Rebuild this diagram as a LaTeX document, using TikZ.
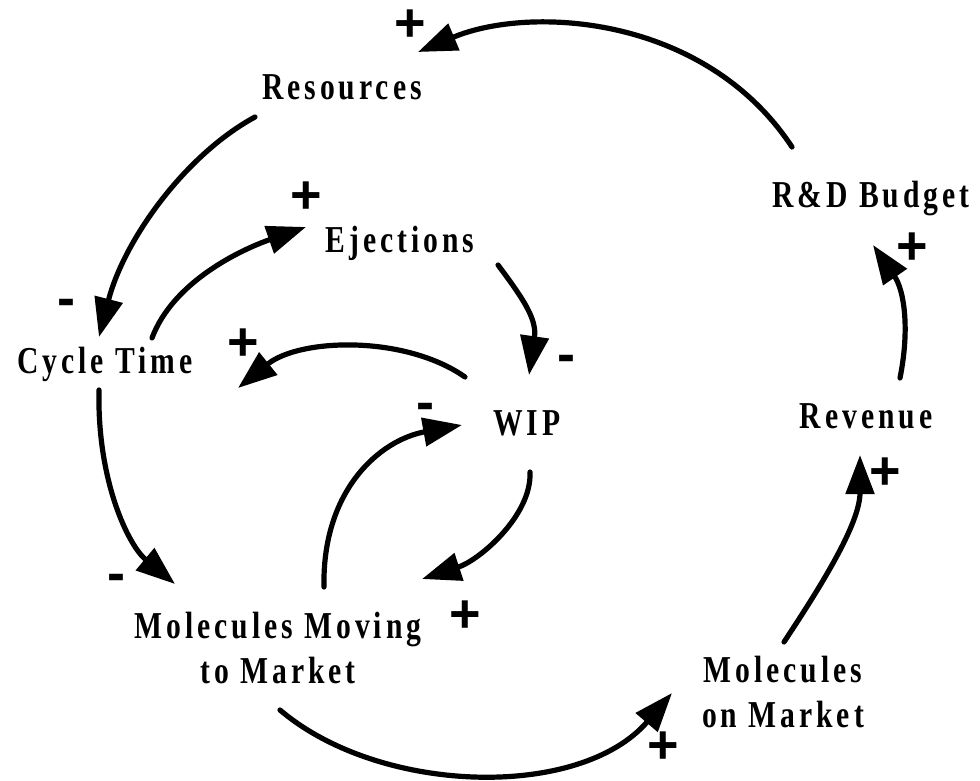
\documentclass[tikz,border=0pt]{standalone}
\usepackage{fontspec}
\setmainfont{Liberation Serif}[FakeStretch=0.78,LetterSpace=10.4]
\newfontfamily\signfont{Liberation Sans}
\usetikzlibrary{arrows.meta,calc}
\tikzset{
  var/.style={font=\fontsize{38}{45}\selectfont\bfseries, inner sep=0pt},
  sign/.style={font=\signfont\fontsize{54}{54}\selectfont\bfseries, inner sep=0pt},
  link/.style={line width=5.2pt, line cap=round, -{Triangle[length=39pt,width=28pt]}},
}
\begin{document}
\begin{tikzpicture}[x=1pt,y=-1pt]
\useasboundingbox (0,0) rectangle (980,781);

% variables of the causal loop diagram
\node[var, anchor=base] (res) at (342,100) {Resources};
\node[var, anchor=base] (rd)  at (871,207) {R\&D Budget};
\node[var, anchor=base] (ej)  at (400,252) {Ejections};
\node[var, anchor=base] (ct)  at (105,373) {Cycle Time};
\node[var, anchor=base] (wip) at (527,435) {WIP};
\node[var, anchor=base] (rev) at (866,428) {Revenue};
\node[var, anchor=north, align=center] (mmm) at (278,612) {Molecules Moving\\to Market};
\node[var, anchor=north, align=center] (mom) at (783,656) {Molecules\\on Market};

% causal links
\draw[link] ($(rd.base)+(-79,-60)$) .. controls (705,15) and (530,5) .. ($(res.base)+(76,-48)$);
\draw[link] ($(res.base)+(-87,17)$) .. controls (185,155) and (124,240) .. ($(ct.base)+(-6,-36)$);
\draw[link] ($(ct.base)+(47,-35)$) .. controls (173,282) and (240,250) .. ($(ej.base)+(-94,-25)$);
\draw[link] ($(ej.base)+(98,13)$) .. controls (525,301) and (537,320) .. ($(wip.base)+(2,-60)$);
\draw[link] ($(wip.base)+(-62,-58)$) .. controls (405,335) and (300,338) .. ($(ct.base)+(133,15)$);
\draw[link] ($(ct.base)+(-6,17)$) .. controls (97,480) and (128,545) .. ($(mmm.north)+(-103,-28)$);
\draw[link] ($(mmm.north)+(46,-25)$) .. controls (322,490) and (380,440) .. ($(wip.base)+(-65,-10)$);
\draw[link] ($(wip.base)+(3,37)$) .. controls (532,515) and (480,560) .. ($(mmm.north)+(144,-33)$);
\draw[link] ($(mmm.north)+(2,98)$) .. controls (380,795) and (580,800) .. ($(mom.north)+(-111,37)$);
\draw[link] ($(mom.north)+(1,-14)$) .. controls (817,592) and (860,525) .. ($(rev.base)+(-6,27)$);
\draw[link] ($(rev.base)+(34,-50)$) .. controls (910,328) and (904,290) .. ($(rd.base)+(2,38)$);

% link polarities
\node[sign] (p1)  at (410,26)  {+};
\node[sign] (p2)  at (66,308)  {-};
\node[sign] (p3)  at (306,198) {+};
\node[sign] (p4)  at (243,345) {+};
\node[sign] (p5)  at (566,364) {-};
\node[sign] (p6)  at (425,412) {-};
\node[sign] (p7)  at (116,583) {-};
\node[sign] (p8)  at (465,617) {+};
\node[sign] (p9)  at (912,249) {+};
\node[sign] (p10) at (885,474) {+};
\node[sign] (p11) at (663,748) {+};
\end{tikzpicture}
\end{document}
